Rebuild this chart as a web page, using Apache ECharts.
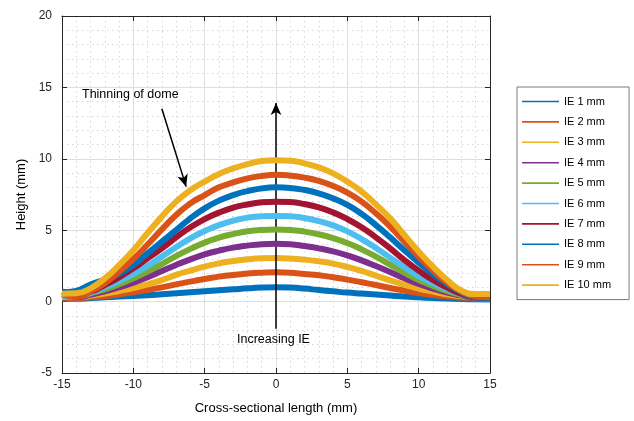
<!DOCTYPE html>
<html>
<head>
<meta charset="utf-8">
<script src="https://cdn.jsdelivr.net/npm/echarts@6/dist/echarts.min.js"></script>
<style>
  html, body { margin: 0; padding: 0; background: #fff; }
  #chart { width: 634px; height: 421px; }
</style>
</head>
<body>
<div id="chart"></div>
<script>
// Cross-sectional positions (mm)
const xs = [-15,-14,-13,-12,-11,-10,-9,-8,-7,-6,-5,-4,-3,-2,-1,0,1,2,3,4,5,6,7,8,9,10,11,12,13,14,15];

// Dome height profiles (mm) for each indentation extent
const ie1  = [0.2,0.2,0.25,0.3,0.35,0.39,0.44,0.51,0.58,0.65,0.72,0.79,0.86,0.93,0.98, 1.0, 0.98,0.91,0.81,0.72,0.63,0.56,0.49,0.42,0.35,0.3,0.25,0.21,0.18,0.16,0.15];
const ie2  = [0.23,0.25,0.3,0.39,0.51,0.65,0.81,1.0,1.21,1.4,1.58,1.75,1.86,1.96,2.02, 2.05, 2.02,1.93,1.84,1.7,1.54,1.35,1.16,0.95,0.77,0.6,0.46,0.37,0.28,0.23,0.2];
const ie3  = [0.3,0.3,0.42,0.56,0.74,0.95,1.21,1.51,1.87,2.17,2.45,2.68,2.84,2.96,3.03, 3.05, 3.02,2.94,2.82,2.66,2.43,2.15,1.82,1.49,1.19,0.91,0.7,0.51,0.37,0.25,0.23];
const ie4  = [0.3,0.3,0.49,0.72,1.0,1.33,1.7,2.14,2.57,2.96,3.31,3.57,3.78,3.92,4.02, 4.05, 4.02,3.89,3.73,3.52,3.24,2.89,2.49,2.07,1.63,1.23,0.91,0.63,0.42,0.25,0.23];
const ie5  = [0.3,0.35,0.58,0.86,1.21,1.63,2.1,2.63,3.19,3.69,4.13,4.48,4.73,4.92,5.02, 5.05, 5.02,4.9,4.71,4.45,4.1,3.66,3.15,2.59,2.03,1.51,1.09,0.74,0.46,0.28,0.25];
const ie6  = [0.35,0.4,0.63,1.0,1.44,1.93,2.5,3.15,3.8,4.43,4.94,5.36,5.67,5.88,5.98, 6.0, 5.98,5.85,5.64,5.34,4.92,4.38,3.76,3.08,2.4,1.79,1.28,0.86,0.51,0.28,0.25];
const ie7  = [0.7,0.6,0.7,1.16,1.7,2.33,3.03,3.73,4.5,5.2,5.78,6.23,6.58,6.8,6.95, 7.0, 6.97,6.83,6.6,6.25,5.78,5.2,4.5,3.73,2.91,2.17,1.51,0.98,0.53,0.28,0.25];
const ie8  = [0.65,0.75,1.2,1.55,1.95,2.56,3.38,4.2,5.01,5.83,6.53,7.07,7.46,7.74,7.93, 8.0, 7.96,7.82,7.58,7.23,6.77,6.14,5.36,4.5,3.6,2.73,1.93,1.23,0.65,0.3,0.25];
const ie9  = [0.5,0.35,0.7,1.28,2.1,2.98,4.0,5.06,6.06,6.88,7.46,8.0,8.35,8.63,8.8, 8.88, 8.82,8.68,8.45,8.1,7.63,7.0,6.18,5.25,4.2,3.15,2.17,1.33,0.7,0.35,0.3];
const ie10 = [0.55,0.58,0.93,1.63,2.55,3.6,4.8,5.95,7.0,7.8,8.4,8.94,9.33,9.63,9.85, 9.9, 9.87,9.68,9.4,8.98,8.4,7.7,6.81,5.83,4.66,3.5,2.45,1.51,0.77,0.53,0.53];

const seriesNames = ['IE 1 mm','IE 2 mm','IE 3 mm','IE 4 mm','IE 5 mm','IE 6 mm','IE 7 mm','IE 8 mm','IE 9 mm','IE 10 mm'];
const seriesValues = [ie1, ie2, ie3, ie4, ie5, ie6, ie7, ie8, ie9, ie10];

// Tick values
const xTicks = [-15,-10,-5,0,5,10,15];
const yTicks = [-5,0,5,10,15,20];

const palette = ['#0072BD','#D95319','#EDB120','#7E2F8E','#77AC30','#4DBEEE','#A2142F','#0072BD','#D95319','#EDB120'];

const FONT = "'Liberation Sans', Arial, Helvetica, sans-serif";
const AXIS_COLOR = '#262626';

const chart = echarts.init(document.getElementById('chart'), null, { renderer: 'canvas' });

const profileSeries = seriesNames.map((name, i) => ({
  name: name,
  type: 'line',
  xAxisIndex: 0,
  yAxisIndex: 0,
  data: xs.map((x, k) => [x, seriesValues[i][k]]),
  smooth: 0.5,
  showSymbol: false,
  symbol: 'none',
  lineStyle: { color: palette[i], width: 6, join: 'round' },
  itemStyle: { color: palette[i] },
  z: 2 + i
}));

// Annotation arrows, placed in data coordinates
const arrowSeries = {
  name: 'annotations',
  type: 'line',
  xAxisIndex: 0,
  yAxisIndex: 0,
  data: [],
  silent: true,
  z: 20,
  markLine: {
    silent: true,
    animation: false,
    symbol: ['none', 'arrow'],
    symbolSize: [8, 12],
    label: { show: false },
    lineStyle: { color: '#000', width: 1.5, type: 'solid' },
    data: [
      [{ coord: [0, -1.9] }, { coord: [0, 13.9] }],
      [{ coord: [-8.0, 13.5] }, { coord: [-6.3, 8.05] }]
    ]
  }
};

const baseX = {
  type: 'value',
  min: xTicks[0],
  max: xTicks[xTicks.length - 1],
  interval: 5
};
const baseY = {
  type: 'value',
  min: yTicks[0],
  max: yTicks[yTicks.length - 1],
  interval: 5
};

chart.setOption({
  animation: false,
  backgroundColor: '#fff',
  grid: { left: 62, top: 16, right: 144, bottom: 48, containLabel: false },
  legend: {
    data: seriesNames.map(n => ({ name: n, icon: 'rect' })),
    orient: 'vertical',
    left: 517,
    top: 87,
    padding: [9, 18, 9, 5],
    itemWidth: 37,
    itemHeight: 1.6,
    itemGap: 9.4,
    borderColor: '#7a7a7a',
    borderWidth: 1,
    borderRadius: 0,
    backgroundColor: '#fff',
    textStyle: { fontFamily: FONT, fontSize: 11, color: '#000' }
  },
  xAxis: [
    Object.assign({}, baseX, {
      position: 'bottom',
      name: 'Cross-sectional length (mm)',
      nameLocation: 'middle',
      nameGap: 29,
      nameTextStyle: { fontFamily: FONT, fontSize: 13, color: '#000' },
      axisLine: { show: true, onZero: false, lineStyle: { color: AXIS_COLOR, width: 1 } },
      axisTick: { show: true, inside: true, length: 5, lineStyle: { color: AXIS_COLOR } },
      axisLabel: { fontFamily: FONT, fontSize: 12, color: AXIS_COLOR, margin: 6 },
      splitLine: { show: true, lineStyle: { color: '#dedede', width: 1 } },
      minorTick: { show: false, splitNumber: 5 },
      minorSplitLine: { show: true, lineStyle: { color: '#d6d6d6', width: 1, type: [1.5, 3.5] } }
    }),
    Object.assign({}, baseX, {
      position: 'top',
      axisLine: { show: true, onZero: false, lineStyle: { color: AXIS_COLOR, width: 1 } },
      axisTick: { show: true, inside: true, length: 5, lineStyle: { color: AXIS_COLOR } },
      axisLabel: { show: false },
      splitLine: { show: false }
    })
  ],
  yAxis: [
    Object.assign({}, baseY, {
      position: 'left',
      name: 'Height (mm)',
      nameLocation: 'middle',
      nameGap: 31,
      nameTextStyle: { fontFamily: FONT, fontSize: 13, color: '#000' },
      axisLine: { show: true, onZero: false, lineStyle: { color: AXIS_COLOR, width: 1 } },
      axisTick: { show: true, inside: true, length: 5, lineStyle: { color: AXIS_COLOR } },
      axisLabel: { fontFamily: FONT, fontSize: 12, color: AXIS_COLOR, margin: 10 },
      splitLine: { show: true, lineStyle: { color: '#dedede', width: 1 } },
      minorTick: { show: false, splitNumber: 5 },
      minorSplitLine: { show: true, lineStyle: { color: '#d6d6d6', width: 1, type: [1.5, 3.5] } }
    }),
    Object.assign({}, baseY, {
      position: 'right',
      axisLine: { show: true, onZero: false, lineStyle: { color: AXIS_COLOR, width: 1 } },
      axisTick: { show: true, inside: true, length: 5, lineStyle: { color: AXIS_COLOR } },
      axisLabel: { show: false },
      splitLine: { show: false }
    })
  ],
  graphic: [
    {
      type: 'text', left: 82, top: 88, z: 30,
      style: { text: 'Thinning of dome', fontFamily: FONT, fontSize: 12.5, fill: '#000' }
    },
    {
      type: 'text', left: 237, top: 333, z: 30,
      style: { text: 'Increasing IE', fontFamily: FONT, fontSize: 12.5, fill: '#000' }
    }
  ],
  series: profileSeries.concat([arrowSeries])
});
</script>
</body>
</html>
